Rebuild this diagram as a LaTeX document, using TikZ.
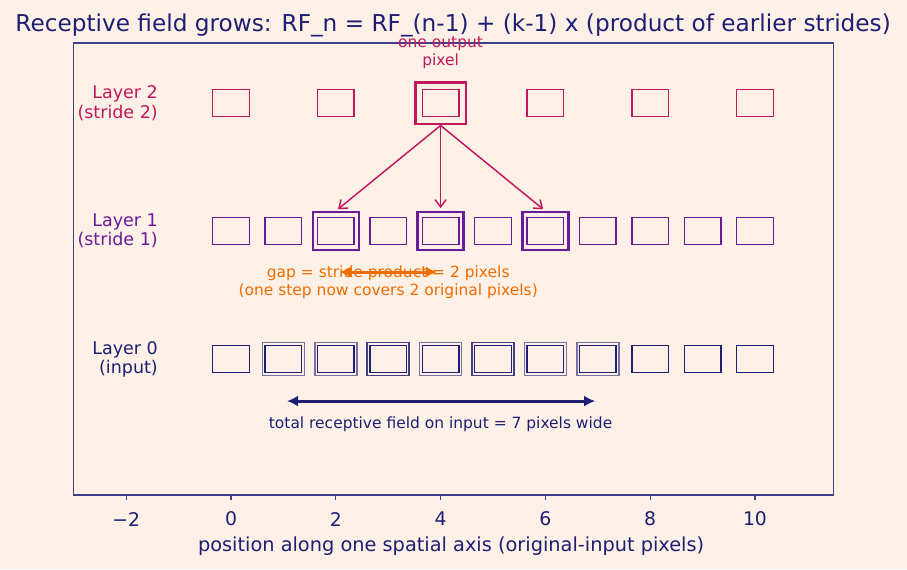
\documentclass[tikz,border=0pt]{standalone}
\usepackage{fontspec}
\setmainfont{DejaVu Sans}
\usetikzlibrary{arrows.meta}
\definecolor{bgpeach}{HTML}{FDF1E7}
\definecolor{navy}{HTML}{1E1E74}
\definecolor{crimson}{HTML}{C2185B}
\definecolor{grape}{HTML}{6A1B9A}
\definecolor{amber}{HTML}{EF6C00}

\begin{document}
\begin{tikzpicture}[x=1cm,y=2.443cm,
  pix/.style={draw,minimum width=0.7cm,minimum height=0.52cm,inner sep=0pt,line width=0.8pt},
  hitwo/.style={draw=crimson,minimum width=0.97cm,minimum height=0.8cm,inner sep=0pt,line width=1.6pt},
  hione/.style={draw=grape,minimum width=0.88cm,minimum height=0.72cm,inner sep=0pt,line width=1.3pt},
  hizero/.style={draw=navy,draw opacity=0.6,minimum width=0.8cm,minimum height=0.63cm,inner sep=0pt,line width=0.9pt},
  rowlab/.style={anchor=east,align=right,inner sep=0pt,font=\fontsize{9.5}{10.5}\selectfont},
  note/.style={align=center,font=\fontsize{8.4}{9.6}\selectfont},
  frame/.style={draw=navy!85,line width=0.7pt}]
\useasboundingbox[fill=bgpeach] (-4.408,-1.6406) rectangle (12.901,2.805);

% axes frame and ticks
\draw[frame] (-3,-1.0625) rectangle (11.5,2.469);
\foreach \t/\s [count=\n] in {-2/−2,0/0,2/2,4/4,6/6,8/8,10/10} {
  \draw[frame] (\t,-1.0625) -- ++(0,-2.7pt);
  \node[navy,font=\fontsize{10.2}{12}\selectfont] (tick\n) at (\t,-1.25) {\s};
}
\node[navy,font=\fontsize{10.5}{12}\selectfont] (xlab) at (4.2,-1.46) {position along one spatial axis (original-input pixels)};
\node[navy,font=\fontsize{12.6}{14}\selectfont] (title) at (4.24,2.609) {Receptive field grows: RF\_n = RF\_(n-1) + (k-1) x (product of earlier strides)};

% row labels
\node[rowlab,crimson] (lab2) at (-1.39,2) {Layer 2\\(stride 2)};
\node[rowlab,grape] (lab1) at (-1.39,1) {Layer 1\\(stride 1)};
\node[rowlab,navy] (lab0) at (-1.39,0) {Layer 0\\(input)};

% pixel rows
\foreach \i in {0,2,...,10}
  \node[pix,crimson] (a\i) at (\i,2) {};
\foreach \i in {0,...,10}
  \node[pix,grape] (b\i) at (\i,1) {};
\foreach \i in {0,...,10}
  \node[pix,navy] (c\i) at (\i,0) {};

% highlighted windows
\node[hitwo] (a4hi) at (4,2) {};
\foreach \i in {2,4,6}
  \node[hione] (b\i hi) at (\i,1) {};
\foreach \i [count=\n] in {1,2,3,3,4,5,5,6,7}
  \node[hizero] (w\n) at (\i,0) {};

\node[note,crimson] (outlab) at (4,2.395) {one output\\pixel};

% kernel arrows
\foreach \i in {2,4,6}
  \draw[crimson,line width=0.8pt,-{Straight Barb[length=4pt,width=6pt]},shorten >=1.5pt] (a4hi.south) -- (b\i hi.north);

% gap annotation
\node[note,amber] (gaplab) at (3,0.60) {gap = stride product = 2 pixels\\(one step now covers 2 original pixels)};
\coordinate (gapL) at (2.08,0.68);
\coordinate (gapR) at (3.93,0.68);
\draw[amber,line width=1.6pt,{Latex[length=6pt,width=6pt]}-{Latex[length=6pt,width=6pt]}] (gapL) -- (gapR);

% receptive field
\coordinate (rfL) at (1.07,-0.328);
\coordinate (rfR) at (6.95,-0.328);
\draw[navy,line width=1.6pt,{Latex[length=6pt,width=6pt]}-{Latex[length=6pt,width=6pt]}] (rfL) -- (rfR);
\node[note,navy] (rflab) at (4,-0.508) {total receptive field on input = 7 pixels wide};
\end{tikzpicture}
\end{document}
